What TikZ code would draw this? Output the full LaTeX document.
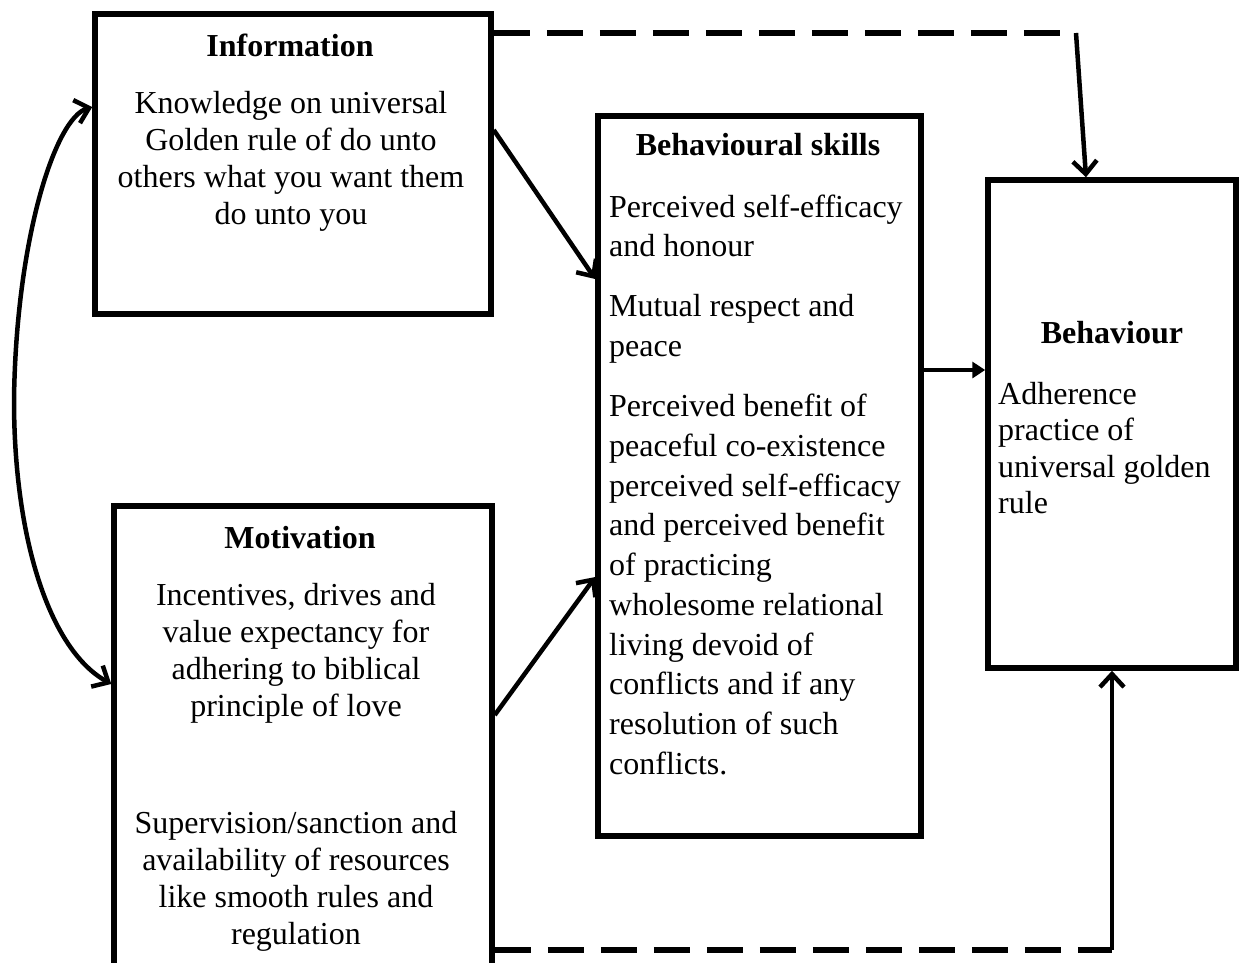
\documentclass[tikz,border=0pt]{standalone}
\usepackage{fontspec}
\setmainfont{Liberation Serif}
\usetikzlibrary{arrows.meta}
\begin{document}
\begin{tikzpicture}[x=1pt,y=-1pt,
  box/.style={draw=black, line width=5.5pt, inner sep=0pt},
  ttl/.style={anchor=base, inner sep=0pt, font=\fontsize{32}{37}\selectfont\bfseries},
  txt/.style={anchor=base, inner sep=0pt, font=\fontsize{32}{37}\selectfont},
  conn/.style={line width=4.5pt},
  barb/.style={-{Straight Barb[length=13pt,width=24pt]}},
  dashline/.style={line width=5.5pt, dash pattern=on 36pt off 17pt}]
\useasboundingbox (0,0) rectangle (1243,962);
\clip (0,0) rectangle (1243,962);
% boxes
\node[box, minimum width=396pt, minimum height=300pt] (info) at (293,164) {};
\node[box, minimum width=378pt, minimum height=480pt] (motiv) at (303,746) {};
\node[box, minimum width=323pt, minimum height=720pt] (bs) at (759.5,476) {};
\node[box, minimum width=248pt, minimum height=488pt] (beh) at (1112,424) {};
% texts
\node[ttl] (infoT) at (290,56) {Information};
\node[txt] (infoB) at (291,113) {\parbox[t]{420pt}{\centering Knowledge on universal\\ Golden rule of do unto\\ others what you want them\\ do unto you}};
\node[ttl] (motivT) at (300,548) {Motivation};
\node[txt] (motivB) at (296,605) {\parbox[t]{420pt}{\centering Incentives, drives and\\ value expectancy for\\ adhering to biblical\\ principle of love\\[80pt] Supervision/sanction and\\ availability of resources\\ like smooth rules and\\ regulation}};
\node[ttl] (bsT) at (758,155) {Behavioural skills};
\node[txt, anchor=base west, font=\fontsize{32}{39.7}\selectfont] (bsB) at (609,217) {\parbox[t]{400pt}{\raggedright Perceived self-efficacy\\ and honour\\[20.5pt] Mutual respect and\\ peace\\[20.5pt] Perceived benefit of\\ peaceful co-existence\\ perceived self-efficacy\\ and perceived benefit\\ of practicing\\ wholesome relational\\ living devoid of\\ conflicts and if any\\ resolution of such\\ conflicts.}};
\node[ttl] (behT) at (1112,343) {Behaviour};
\node[txt, anchor=base west, font=\fontsize{32}{36.5}\selectfont] (behB) at (998,404) {\parbox[t]{300pt}{\raggedright Adherence\\ practice of\\ universal golden\\ rule}};
% connectors
\draw[conn, barb] (info.east |- 0,130) -- (bs.west |- 0,279);
\draw[conn, barb] (motiv.east |- 0,715) -- (bs.west |- 0,577);
\draw[conn, -{Triangle[length=13pt,width=16pt]}] (bs.east |- 0,370) -- (beh.west |- 0,370);
\draw[conn, {Straight Barb[length=13pt,width=24pt]}-{Straight Barb[length=13pt,width=24pt]}]
  (info.west |- 0,107) .. controls (55,118) and (16,240) .. (14,400)
  .. controls (14,540) and (50,650) .. (motiv.west |- 0,684);
\coordinate (tr) at (1076,33);
\draw[dashline] (info.east |- tr) -- (tr);
\draw[conn, barb] (tr) -- (1086,0 |- beh.north);
\coordinate (br) at (1112,950);
\draw[dashline] (motiv.east |- br) -- (br);
\draw[conn, barb] (br) -- (beh.south);
\end{tikzpicture}
\end{document}
